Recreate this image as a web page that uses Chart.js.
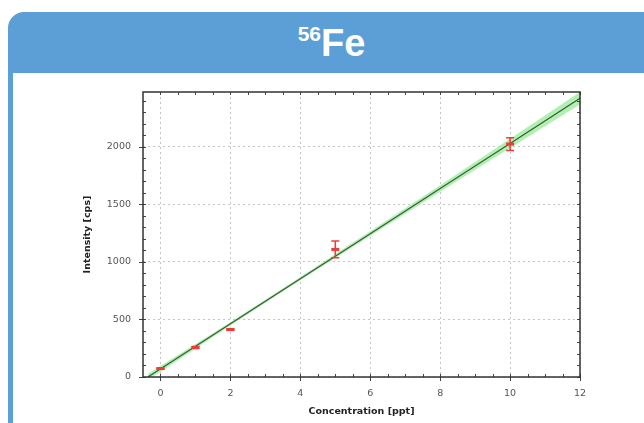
<!DOCTYPE html>
<html>
<head>
<meta charset="utf-8">
<script src="https://cdn.jsdelivr.net/npm/chart.js@4.4.1/dist/chart.umd.min.js"></script>
<style>
  html, body { margin: 0; padding: 0; background: #fff; }
  body { width: 644px; height: 423px; overflow: hidden; position: relative; }
  .box {
    position: absolute; left: 8px; top: 12px;
    width: 637px; height: 430px;
    border: 5px solid #5b9fd6; border-top-left-radius: 16px;
    background: #fff;
  }
  .head {
    height: 56px; line-height: 52px; background: #5b9fd6;
    color: #fff; text-align: center;
    font-family: "Liberation Sans", Arial, sans-serif; font-weight: bold; font-size: 38px;
  }
  .head span { font-size: 21px; position: relative; top: -15px; }
  #chart { position: absolute; left: 0; top: 0; }
</style>
</head>
<body>
<div class="box"><div class="head"><span>56</span>Fe</div></div>
<canvas id="chart" width="644" height="423"></canvas>
<script>
// measured standards
const concentrations = [0, 1, 2, 5, 10];
const intensities = [73, 256, 412, 1108, 2023];
const intensityErrors = [6, 8, 6, 72, 55];

// calibration line and confidence band
const fitX = [-0.36, 2, 4, 6, 8, 10, 12];
const fitY = [0, 462, 854, 1245, 1637, 2028, 2420];
const bandUpper = [28, 476, 868, 1265, 1665, 2068, 2474];
const bandLower = [-28, 448, 840, 1225, 1609, 1988, 2366];

// axis ticks
const xTickValues = [0, 2, 4, 6, 8, 10, 12];
const yTickValues = [0, 500, 1000, 1500, 2000];

const red = '#f03a3a';

const decor = {
  id: 'decor',
  afterDatasetsDraw(chart) {
    const ctx = chart.ctx;
    const x = chart.scales.x, y = chart.scales.y;
    ctx.save();
    ctx.strokeStyle = red;
    ctx.lineWidth = 1.5;
    concentrations.forEach((c, i) => {
      const px = x.getPixelForValue(c);
      const top = y.getPixelForValue(intensities[i] + intensityErrors[i]);
      const bot = y.getPixelForValue(intensities[i] - intensityErrors[i]);
      ctx.beginPath();
      ctx.moveTo(px, top); ctx.lineTo(px, bot);
      ctx.moveTo(px - 4, top); ctx.lineTo(px + 4, top);
      ctx.moveTo(px - 4, bot); ctx.lineTo(px + 4, bot);
      ctx.stroke();
    });
    ctx.restore();
  },
  afterDraw(chart) {
    const ctx = chart.ctx;
    const a = chart.chartArea;
    const x = chart.scales.x, y = chart.scales.y;
    ctx.save();
    ctx.strokeStyle = '#444';
    ctx.lineWidth = 1;
    ctx.beginPath();
    for (let v = 0; v <= x.max + 1e-9; v += 0.5) {
      const px = Math.round(x.getPixelForValue(v)) + 0.5;
      const major = xTickValues.includes(v);
      ctx.moveTo(px, a.bottom + (major ? 4 : 0)); ctx.lineTo(px, a.bottom - 3);
      ctx.moveTo(px, a.top); ctx.lineTo(px, a.top + 3);
    }
    for (let v = 0; v <= y.max; v += 100) {
      const py = Math.round(y.getPixelForValue(v)) + 0.5;
      const major = yTickValues.includes(v);
      ctx.moveTo(a.left - (major ? 4 : 0), py); ctx.lineTo(a.left + 3, py);
      ctx.moveTo(a.right - 3, py); ctx.lineTo(a.right, py);
    }
    ctx.stroke();
    ctx.strokeStyle = '#333';
    ctx.lineWidth = 1.5;
    ctx.strokeRect(a.left, a.top, a.right - a.left, a.bottom - a.top);
    ctx.restore();
  }
};

const tickFont = { family: 'DejaVu Sans', size: 9.5 };
const titleFont = { family: 'DejaVu Sans', size: 9.5, weight: 'bold' };

new Chart(document.getElementById('chart').getContext('2d'), {
  type: 'line',
  data: {
    datasets: [
      {
        data: concentrations.map((v, i) => ({ x: v, y: intensities[i] })),
        showLine: false, pointStyle: 'line', pointRadius: 4,
        borderColor: red, borderWidth: 3, backgroundColor: red
      },
      {
        data: fitX.map((v, i) => ({ x: v, y: fitY[i] })),
        borderColor: '#3b5a3b', borderWidth: 1.2, pointRadius: 0, fill: false
      },
      {
        data: fitX.map((v, i) => ({ x: v, y: bandUpper[i] })),
        borderWidth: 0, pointRadius: 0, fill: '+1',
        borderColor: 'rgba(0,0,0,0)',
        backgroundColor: 'rgba(150,235,150,0.75)'
      },
      {
        data: fitX.map((v, i) => ({ x: v, y: bandLower[i] })),
        borderWidth: 0, pointRadius: 0, fill: false,
        borderColor: 'rgba(0,0,0,0)'
      }
    ]
  },
  options: {
    responsive: false,
    devicePixelRatio: 1,
    animation: false,
    layout: { padding: { left: 78, right: 64, top: 92, bottom: 4 } },
    plugins: { legend: { display: false }, tooltip: { enabled: false } },
    scales: {
      x: {
        type: 'linear', min: -0.5, max: 12,
        afterBuildTicks: s => { s.ticks = xTickValues.map(v => ({ value: v })); },
        afterFit: s => { s.height = 42; },
        ticks: { font: tickFont, color: '#555', padding: 11, maxRotation: 0, callback: v => String(v) },
        grid: { color: '#c4c4c4', drawTicks: false },
        border: { display: false, dash: [2, 3] },
        title: { display: true, text: 'Concentration [ppt]', font: titleFont, color: '#222', padding: { top: 2, bottom: 2 } }
      },
      y: {
        type: 'linear', min: 0, max: 2475,
        afterBuildTicks: s => { s.ticks = yTickValues.map(v => ({ value: v })); },
        afterFit: s => { s.width = 65; },
        ticks: { font: tickFont, color: '#555', padding: 12, callback: v => String(v) },
        grid: { color: '#c4c4c4', drawTicks: false },
        border: { display: false, dash: [2, 3] },
        title: { display: true, text: 'Intensity [cps]', font: titleFont, color: '#222', padding: { top: 4, bottom: 4 } }
      }
    }
  },
  plugins: [decor]
});
</script>
</body>
</html>
